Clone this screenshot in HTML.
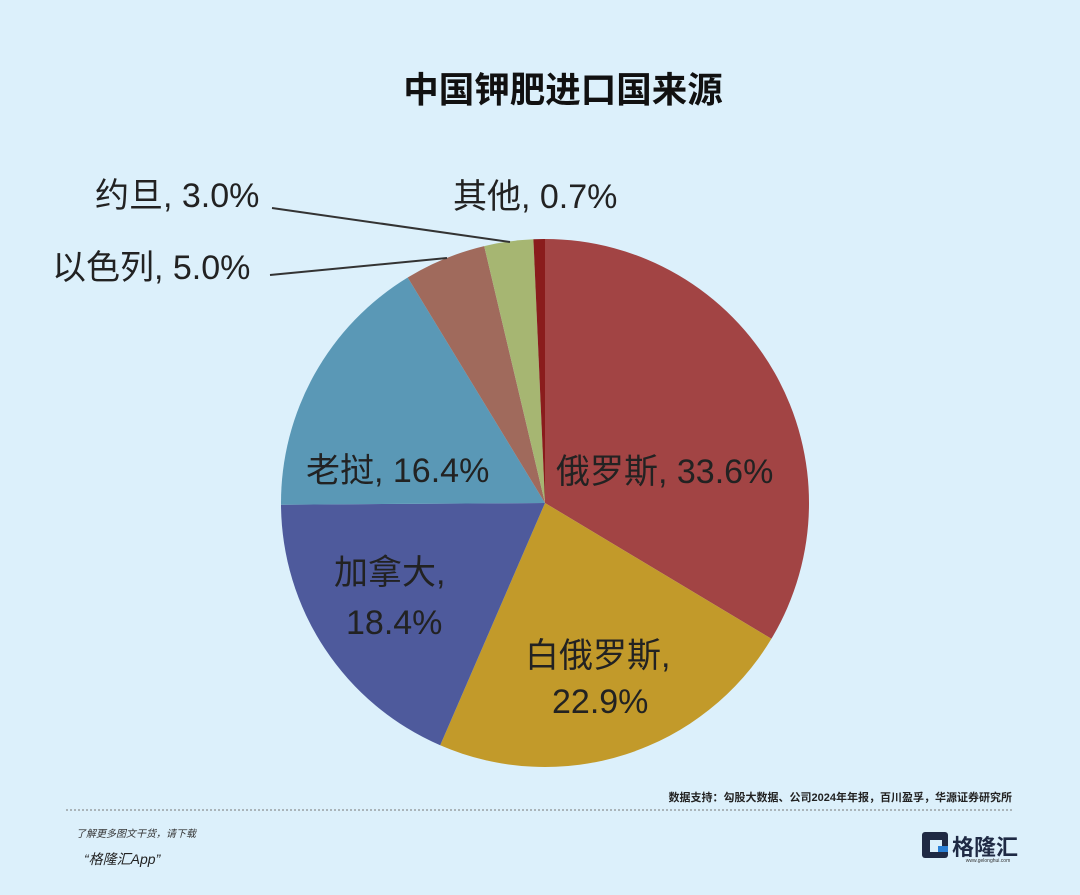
<!DOCTYPE html>
<html><head><meta charset="utf-8"><style>
html,body{margin:0;padding:0}
body{width:1080px;height:895px;background:#dcf0fb;position:relative;overflow:hidden;font-family:"Liberation Sans","Noto Sans CJK SC",sans-serif}
</style></head><body>
<svg width="1080" height="895" style="position:absolute;left:0;top:0" font-family="Liberation Sans, Noto Sans CJK SC, sans-serif">
<text x="563" y="102" text-anchor="middle" font-size="35.5" font-weight="bold" fill="#111">中国钾肥进口国来源</text>
<g stroke="none">
<path d="M545,503 L545,239 A264,264 0 0 1 771.4,638.8 Z" fill="#a24444"/>
<path d="M545,503 L771.4,638.8 A264,264 0 0 1 440.2,745.3 Z" fill="#c29a2a"/>
<path d="M545,503 L440.2,745.3 A264,264 0 0 1 281,504.7 Z" fill="#4e5a9c"/>
<path d="M545,503 L281,504.7 A264,264 0 0 1 407.7,277.5 Z" fill="#5a98b6"/>
<path d="M545,503 L407.7,277.5 A264,264 0 0 1 484.2,246.1 Z" fill="#a06a5c"/>
<path d="M545,503 L484.2,246.1 A264,264 0 0 1 533.4,239.2 Z" fill="#a6b672"/>
<path d="M545,503 L533.4,239.2 A264,264 0 0 1 545,239 Z" fill="#8a1c1c"/>
</g>
<line x1="272" y1="208" x2="510" y2="242" stroke="#333" stroke-width="2"/>
<line x1="270" y1="275" x2="447" y2="258" stroke="#333" stroke-width="2"/>
<g font-size="34" fill="#222">
<text x="95" y="207">约旦, 3.0%</text>
<text x="453" y="208">其他, 0.7%</text>
<text x="52" y="279">以色列, 5.0%</text>
<text x="306" y="482">老挝, 16.4%</text>
<text x="556" y="483">俄罗斯, 33.6%</text>
<text x="334" y="584">加拿大,</text>
<text x="346" y="634">18.4%</text>
<text x="525" y="667">白俄罗斯,</text>
<text x="552" y="713">22.9%</text>
</g>
<text x="1012" y="801" text-anchor="end" font-size="11" font-weight="bold" fill="#222">数据支持：勾股大数据、公司2024年年报，百川盈孚，华源证券研究所</text>
<line x1="66" y1="810" x2="1013" y2="810" stroke="#777" stroke-width="1" stroke-dasharray="2,2"/>
<text x="76" y="837" font-size="10" font-style="italic" fill="#333">了解更多图文干货，请下载</text>
<text x="84" y="864" font-size="14" font-style="italic" fill="#222">“格隆汇App”</text>
<rect x="922" y="832" width="26" height="26" rx="3" fill="#1f2a44"/>
<rect x="930" y="840" width="12" height="12" fill="#dcf0fb"/>
<rect x="938" y="846" width="10" height="6" fill="#2a7fd4"/>
<text x="952" y="855" font-size="22" font-weight="bold" fill="#1f2a44">格隆汇</text>
<text x="988" y="862" text-anchor="middle" font-size="5" fill="#333">www.gelonghui.com</text>
</svg>
</body></html>
